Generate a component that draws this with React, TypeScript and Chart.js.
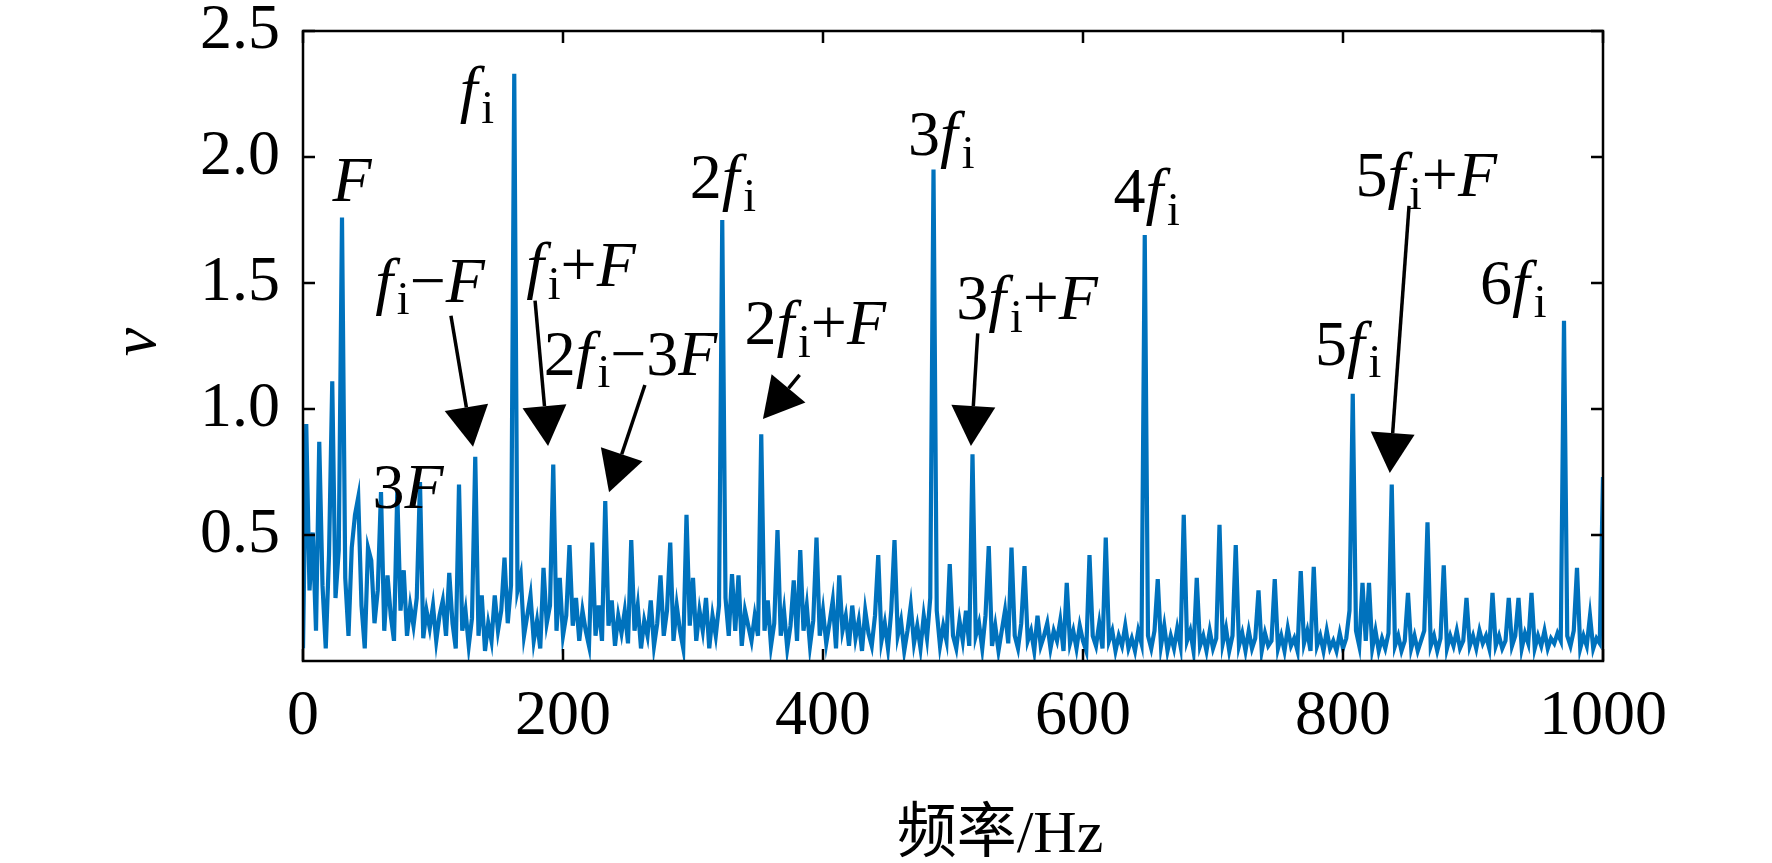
import React, { useEffect, useRef } from "react";
import { Chart, registerables } from "chart.js";

Chart.register(...registerables);

// Frequency grid step (Hz) of the spectrum samples below (0 … 1000 Hz)
const freqStep = 2.5;

// Spectrum amplitude v, one value per 2.5 Hz bin (0, 2.5, 5, … 1000 Hz)
const amplitude: number[] = [
  0.05, 0.94, 0.28, 0.51, 0.12, 0.87, 0.30, 0.05, 0.42, 1.11,
  0.25, 0.44, 1.76, 0.33, 0.10, 0.45, 0.58, 0.65, 0.22, 0.05,
  0.45, 0.40, 0.15, 0.28, 0.67, 0.12, 0.34, 0.18, 0.08, 0.67,
  0.20, 0.36, 0.10, 0.22, 0.14, 0.25, 0.71, 0.09, 0.20, 0.13,
  0.22, 0.08, 0.18, 0.24, 0.10, 0.35, 0.15, 0.05, 0.70, 0.12,
  0.20, 0.06, 0.17, 0.81, 0.10, 0.26, 0.04, 0.15, 0.08, 0.26,
  0.12, 0.20, 0.41, 0.15, 0.30, 2.33, 0.28, 0.34, 0.10, 0.18,
  0.26, 0.08, 0.16, 0.05, 0.37, 0.15, 0.22, 0.78, 0.12, 0.33,
  0.10, 0.18, 0.46, 0.14, 0.25, 0.08, 0.20, 0.12, 0.06, 0.47,
  0.10, 0.22, 0.08, 0.635, 0.14, 0.24, 0.06, 0.18, 0.11, 0.20,
  0.07, 0.48, 0.12, 0.22, 0.05, 0.16, 0.10, 0.24, 0.06, 0.15,
  0.34, 0.10, 0.20, 0.47, 0.08, 0.22, 0.12, 0.05, 0.58, 0.14,
  0.33, 0.08, 0.20, 0.12, 0.25, 0.05, 0.18, 0.10, 0.22, 1.75,
  0.25, 0.10, 0.345, 0.12, 0.34, 0.06, 0.20, 0.14, 0.08, 0.18,
  0.10, 0.90, 0.12, 0.24, 0.06, 0.15, 0.52, 0.10, 0.20, 0.05,
  0.14, 0.32, 0.08, 0.44, 0.12, 0.22, 0.06, 0.16, 0.49, 0.10,
  0.20, 0.07, 0.15, 0.24, 0.05, 0.34, 0.12, 0.18, 0.06, 0.22,
  0.09, 0.16, 0.04, 0.20, 0.11, 0.06, 0.18, 0.42, 0.08, 0.15,
  0.05, 0.20, 0.48, 0.10, 0.16, 0.04, 0.12, 0.22, 0.07, 0.14,
  0.05, 0.18, 0.09, 0.25, 1.95, 0.20, 0.06, 0.14, 0.08, 0.385,
  0.10, 0.05, 0.16, 0.08, 0.20, 0.06, 0.82, 0.10, 0.15, 0.05,
  0.18, 0.456, 0.06, 0.14, 0.04, 0.12, 0.20, 0.07, 0.45, 0.10,
  0.05, 0.15, 0.377, 0.08, 0.12, 0.04, 0.18, 0.06, 0.10, 0.15,
  0.05, 0.12, 0.08, 0.16, 0.04, 0.31, 0.07, 0.12, 0.05, 0.14,
  0.08, 0.04, 0.42, 0.10, 0.06, 0.15, 0.05, 0.49, 0.08, 0.12,
  0.04, 0.10, 0.06, 0.14, 0.05, 0.09, 0.04, 0.12, 0.07, 1.69,
  0.10, 0.05, 0.12, 0.325, 0.06, 0.14, 0.04, 0.10, 0.05, 0.13,
  0.06, 0.58, 0.08, 0.12, 0.04, 0.33, 0.06, 0.10, 0.04, 0.12,
  0.05, 0.09, 0.54, 0.07, 0.13, 0.04, 0.10, 0.46, 0.06, 0.11,
  0.04, 0.12, 0.05, 0.09, 0.28, 0.04, 0.11, 0.06, 0.08, 0.325,
  0.05, 0.10, 0.04, 0.13, 0.06, 0.09, 0.04, 0.357, 0.07, 0.12,
  0.04, 0.374, 0.06, 0.10, 0.04, 0.12, 0.05, 0.08, 0.04, 0.11,
  0.05, 0.09, 0.20, 1.06, 0.12, 0.06, 0.31, 0.08, 0.31, 0.05,
  0.12, 0.04, 0.09, 0.05, 0.11, 0.70, 0.06, 0.10, 0.04, 0.08,
  0.27, 0.05, 0.10, 0.04, 0.08, 0.12, 0.55, 0.06, 0.10, 0.04,
  0.09, 0.38, 0.05, 0.10, 0.06, 0.12, 0.05, 0.08, 0.25, 0.06,
  0.10, 0.05, 0.12, 0.07, 0.10, 0.05, 0.27, 0.06, 0.10, 0.05,
  0.08, 0.25, 0.06, 0.10, 0.25, 0.05, 0.11, 0.07, 0.27, 0.05,
  0.10, 0.06, 0.12, 0.05, 0.09, 0.07, 0.11, 0.08, 1.35, 0.10,
  0.06, 0.12, 0.37, 0.05, 0.10, 0.06, 0.18, 0.05, 0.09, 0.07,
  0.73,
];

// Axis ticks
const xTicks = [0, 200, 400, 600, 800, 1000];
const yTicks = [0.5, 1.0, 1.5, 2.0, 2.5];

// Peak annotation labels ("_" = subscript), placed in data coordinates
const labelTexts = ["F", "f_i", "f_i−F", "3F", "f_i+F", "2f_i−3F", "2f_i", "2f_i+F", "3f_i", "3f_i+F", "4f_i", "5f_i+F", "5f_i", "6f_i"];
const labelHz = [37.7, 133.8, 97.7, 80.8, 213.8, 252, 323, 394, 491, 557, 649, 864, 804, 931];
const labelV = [1.91, 2.27, 1.51, 0.69, 1.57, 1.22, 1.92, 1.34, 2.09, 1.44, 1.865, 1.93, 1.26, 1.5];

// Arrows: tail (Hz, v) -> tip (Hz, v)
const arrowFromHz = [113.8, 178.5, 263, 382, 519, 850.8];
const arrowFromV = [1.37, 1.43, 1.095, 1.135, 1.3, 1.806];
const arrowToHz = [130.8, 188.5, 235.4, 353.8, 513.8, 836];
const arrowToV = [0.85, 0.853, 0.67, 0.96, 0.853, 0.746];

const SERIF = "'Liberation Serif', 'Times New Roman', serif";
const FONT_SIZE = 64;

function drawRich(ctx: CanvasRenderingContext2D, text: string, cx: number, cy: number, size: number) {
  const parts: { t: string; font: string; w: number; dy: number; pad: number }[] = [];
  for (let k = 0; k < text.length; k++) {
    let ch = text[k];
    let sub = false;
    if (ch === "_") {
      sub = true;
      k++;
      ch = text[k];
    }
    const italic = !sub && /[A-Za-z]/.test(ch);
    const sz = sub ? size * 0.72 : size;
    const font = `${italic ? "italic " : ""}${sz}px ${SERIF}`;
    ctx.font = font;
    const w = ctx.measureText(ch).width;
    parts.push({ t: ch, font, w, dy: sub ? size * 0.2 : 0, pad: italic && ch === "f" ? size * 0.06 : 0 });
  }
  const total = parts.reduce((a, p) => a + p.w + p.pad, 0);
  let x = cx - total / 2;
  ctx.textAlign = "left";
  ctx.textBaseline = "alphabetic";
  const base = cy + size * 0.33;
  for (const p of parts) {
    ctx.font = p.font;
    ctx.fillText(p.t, x, base + p.dy);
    x += p.w + p.pad;
  }
}

function drawArrow(ctx: CanvasRenderingContext2D, x1: number, y1: number, x2: number, y2: number) {
  const ang = Math.atan2(y2 - y1, x2 - x1);
  const headLen = 40;
  const headHalf = 22;
  const bx = x2 - headLen * Math.cos(ang);
  const by = y2 - headLen * Math.sin(ang);
  ctx.beginPath();
  ctx.moveTo(x1, y1);
  ctx.lineTo(bx, by);
  ctx.lineWidth = 3.5;
  ctx.strokeStyle = "#000";
  ctx.stroke();
  ctx.beginPath();
  ctx.moveTo(x2, y2);
  ctx.lineTo(bx + headHalf * Math.sin(ang), by - headHalf * Math.cos(ang));
  ctx.lineTo(bx - headHalf * Math.sin(ang), by + headHalf * Math.cos(ang));
  ctx.closePath();
  ctx.fillStyle = "#000";
  ctx.fill();
}

const framePlugin = {
  id: "frame",
  afterDraw(chart: any) {
    const { ctx, chartArea: a, scales } = chart;
    const xs = scales.x;
    const ys = scales.y;
    ctx.save();
    // box
    ctx.strokeStyle = "#000";
    ctx.lineWidth = 2.5;
    ctx.strokeRect(a.left, a.top, a.right - a.left, a.bottom - a.top);
    // inward ticks
    const tl = 12;
    ctx.beginPath();
    for (const t of xTicks) {
      const px = xs.getPixelForValue(t);
      ctx.moveTo(px, a.bottom);
      ctx.lineTo(px, a.bottom - tl);
      ctx.moveTo(px, a.top);
      ctx.lineTo(px, a.top + tl);
    }
    for (const t of yTicks) {
      const py = ys.getPixelForValue(t);
      ctx.moveTo(a.left, py);
      ctx.lineTo(a.left + tl, py);
      ctx.moveTo(a.right, py);
      ctx.lineTo(a.right - tl, py);
    }
    ctx.stroke();

    // annotations
    for (let k = 0; k < arrowFromHz.length; k++) {
      drawArrow(
        ctx,
        xs.getPixelForValue(arrowFromHz[k]),
        ys.getPixelForValue(arrowFromV[k]),
        xs.getPixelForValue(arrowToHz[k]),
        ys.getPixelForValue(arrowToV[k])
      );
    }
    ctx.fillStyle = "#000";
    for (let k = 0; k < labelTexts.length; k++) {
      drawRich(ctx, labelTexts[k], xs.getPixelForValue(labelHz[k]), ys.getPixelForValue(labelV[k]), FONT_SIZE);
    }

    // axis titles
    ctx.font = `60px ${SERIF}, 'Noto Sans CJK SC'`;
    ctx.textAlign = "center";
    ctx.textBaseline = "middle";
    ctx.fillText("频率/Hz", 1000, 836);

    ctx.translate(138, 342);
    ctx.rotate(-Math.PI / 2);
    ctx.font = `italic ${FONT_SIZE}px ${SERIF}`;
    ctx.fillText("v", 0, 0);
    ctx.restore();
  },
};

export default function App() {
  const ref = useRef<HTMLCanvasElement | null>(null);
  useEffect(() => {
    if (!ref.current) return;
    const points = amplitude.map((v, i) => ({ x: i * freqStep, y: v }));
    const chart = new Chart(ref.current, {
      type: "line",
      data: {
        datasets: [
          {
            data: points,
            borderColor: "#0072BD",
            borderWidth: 4.2,
            pointRadius: 0,
            tension: 0,
            fill: false,
          },
        ],
      },
      options: {
        animation: false,
        responsive: false,
        maintainAspectRatio: false,
        layout: { padding: { left: 0, top: 31, right: 169, bottom: 0 } },
        plugins: { legend: { display: false }, tooltip: { enabled: false } },
        scales: {
          x: {
            type: "linear",
            min: 0,
            max: 1000,
            afterBuildTicks: (s: any) => {
              s.ticks = xTicks.map((v) => ({ value: v }));
            },
            afterFit: (s: any) => {
              s.height = 202;
              s.paddingLeft = 0;
              s.paddingRight = 0;
              s.paddingTop = 0;
              s.paddingBottom = 0;
            },
            ticks: {
              color: "#000",
              font: { family: SERIF, size: FONT_SIZE },
              padding: 18,
              maxRotation: 0,
              autoSkip: false,
              callback: (v: any) => String(v),
            },
            grid: { display: false, drawTicks: false },
            border: { display: false },
          },
          y: {
            type: "linear",
            min: 0,
            max: 2.5,
            afterBuildTicks: (s: any) => {
              s.ticks = yTicks.map((v) => ({ value: v }));
            },
            afterFit: (s: any) => {
              s.width = 303;
              s.paddingLeft = 0;
              s.paddingRight = 0;
              s.paddingTop = 0;
              s.paddingBottom = 0;
            },
            ticks: {
              color: "#000",
              font: { family: SERIF, size: FONT_SIZE },
              padding: 23,
              callback: (v: any) => Number(v).toFixed(1),
            },
            grid: { display: false, drawTicks: false },
            border: { display: false },
          },
        },
      },
      plugins: [framePlugin],
    });
    return () => chart.destroy();
  }, []);
  return (
    <div style={{ position: "absolute", left: 0, top: 0, width: 1772, height: 863, background: "#fff" }}>
      <canvas ref={ref} width={1772} height={863} style={{ width: 1772, height: 863 }} />
    </div>
  );
}
